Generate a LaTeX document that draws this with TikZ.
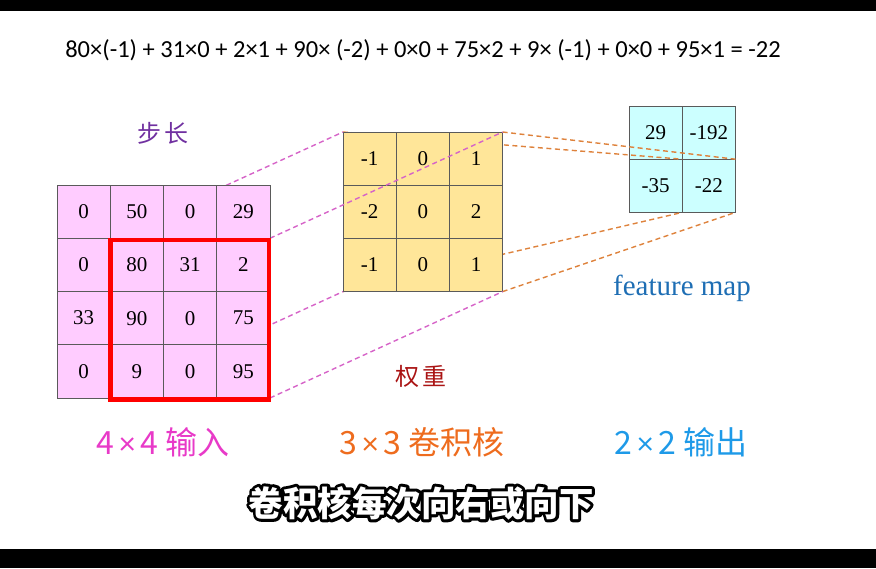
\documentclass[tikz,border=0pt]{standalone}
\usepackage{fontspec}
\setmainfont{Carlito}
\newfontfamily\numfont{Liberation Serif}
\newfontfamily\cjk{Noto Sans CJK SC}

\definecolor{inpink}{RGB}{255,204,255}
\definecolor{kergold}{RGB}{255,230,153}
\definecolor{outcyan}{RGB}{204,255,255}
\definecolor{gridgray}{RGB}{90,90,90}
\definecolor{pinkdash}{RGB}{214,100,200}
\definecolor{orangedash}{RGB}{222,130,60}
\definecolor{steppurple}{RGB}{112,48,160}
\definecolor{weightred}{RGB}{170,20,20}
\definecolor{mapblue}{RGB}{30,110,180}
\definecolor{inlabel}{RGB}{232,58,200}
\definecolor{kerlabel}{RGB}{238,108,30}
\definecolor{outlabel}{RGB}{30,154,232}

% stroked text for the subtitle outline
\newcommand{\strokedtext}[1]{\special{pdf:literal direct q 1 Tr 6 w 1 j 0 G}#1\special{pdf:literal direct Q}}
% narrow times sign in the size labels
\newcommand{\bytimes}{{\rmfamily\,×\,}}

\pgfdeclarelayer{outlayer}
\pgfdeclarelayer{orangelayer}
\pgfdeclarelayer{kerlayer}
\pgfdeclarelayer{pinklayer}
\pgfsetlayers{outlayer,orangelayer,kerlayer,pinklayer,main}

\begin{document}
\begin{tikzpicture}[x=1pt,y=-1pt,
    cell/.style={draw=gridgray, line width=0.8pt, minimum size=53.2pt, inner sep=0pt, outer sep=0pt, font=\numfont\fontsize{21}{21}\selectfont},
    incell/.style={cell, fill=inpink},
    kcell/.style={cell, fill=kergold},
    ocell/.style={cell, fill=outcyan},
    pinkline/.style={pinkdash, line width=1.4pt, dash pattern=on 5pt off 3.5pt},
    orangeline/.style={orangedash, line width=1.4pt, dash pattern=on 5pt off 3.5pt},
    smalllabel/.style={font=\cjk\fontsize{24}{24}\selectfont},
    biglabel/.style={font=\cjk\fontsize{32}{32}\selectfont},
    subtitle/.style={font=\cjk\bfseries\fontsize{34.5}{34.5}\selectfont}]

    \useasboundingbox (0,0) rectangle (876,568);
    \fill[black] (0,0) rectangle (876,11);
    \fill[black] (0,549) rectangle (876,568);

    % formula
    \node[font=\fontsize{24.5}{24.5}\selectfont] (formula) at (423,50)
        {80×(-1) + 31×0 + 2×1 + 90× (-2) + 0×0 + 75×2 + 9× (-1) + 0×0 + 95×1 = -22};

    % 2x2 output
    \begin{pgfonlayer}{outlayer}
    \foreach \row [count=\r] in {{29,-192},{-35,-22}}
        \foreach \v [count=\c] in \row
            \node[ocell] (o-\r-\c) at ({629+53.2*(\c-0.5)},{106+53.2*(\r-0.5)}) {\v};
    \end{pgfonlayer}

    % 3x3 kernel
    \begin{pgfonlayer}{kerlayer}
    \foreach \row [count=\r] in {{-1,0,1},{-2,0,2},{-1,0,1}}
        \foreach \v [count=\c] in \row
            \node[kcell] (k-\r-\c) at ({343+53.2*(\c-0.5)},{132+53.2*(\r-0.5)}) {\v};
    \end{pgfonlayer}

    % 4x4 input
    \foreach \row [count=\r] in {{0,50,0,29},{0,80,31,2},{33,90,0,75},{0,9,0,95}}
        \foreach \v [count=\c] in \row
            \node[incell] (in-\r-\c) at ({57+53.25*(\c-0.5)},{185+53.25*(\r-0.5)}) {\v};

    \draw[red, line width=4.5pt] ([shift={(0,1.5)}]in-2-2.north west) rectangle ([shift={(-1,1.5)}]in-4-4.south east);

    % input -> kernel
    \begin{pgfonlayer}{pinklayer}
    \draw[pinkline] (in-2-2.north west) -- (k-1-1.north west);
    \draw[pinkline] (in-2-4.north east) -- (k-1-3.north east);
    \draw[pinkline] (in-4-2.south west) -- (k-3-1.south west);
    \draw[pinkline] (in-4-4.south east) -- (k-3-3.south east);
    \end{pgfonlayer}

    % kernel -> output
    \begin{pgfonlayer}{orangelayer}
    \draw[orangeline] (k-1-1.north west) -- (o-2-2.north west);
    \draw[orangeline] (k-1-3.north east) -- (o-2-2.north east);
    \draw[orangeline] (k-3-1.south west) -- (o-2-2.south west);
    \draw[orangeline] (k-3-3.south east) -- (o-2-2.south east);
    \end{pgfonlayer}

    % labels
    \node[smalllabel, text=steppurple] (step) at (163,133) {步\hspace{4pt}长};
    \node[smalllabel, text=weightred] (weight) at (421,376) {权\hspace{4pt}重};
    \node[font=\numfont\fontsize{29}{29}\selectfont, text=mapblue] (fmap) at (682,288) {feature map};

    \node[biglabel, text=inlabel] (lblin) at (163,442) {4\bytimes4 输入};
    \node[biglabel, text=kerlabel] (lblker) at (422,442) {3\bytimes3 卷积核};
    \node[biglabel, text=outlabel] (lblout) at (681,442) {2\bytimes2 输出};

    % subtitle, black outline under white text
    \node[subtitle, text=black] (subline) at (421,503) {\strokedtext{卷积核每次向右或向下}};
    \node[subtitle, text=white] (sub) at (subline.center) {卷积核每次向右或向下};

\end{tikzpicture}
\end{document}
